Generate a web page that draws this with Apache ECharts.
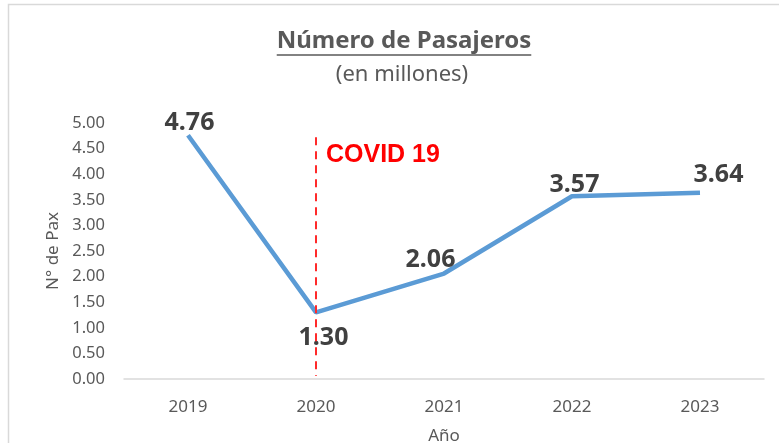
<!DOCTYPE html>
<html>
<head>
<meta charset="utf-8">
<script src="https://cdn.jsdelivr.net/npm/echarts@6/dist/echarts.min.js"></script>
<style>
html, body { margin: 0; padding: 0; background: #fff; }
#chart { width: 779px; height: 443px; }
</style>
</head>
<body>
<div id="chart"></div>
<script>
// datos
var years = ['2019', '2020', '2021', '2022', '2023'];
var pasajeros = [4.76, 1.30, 2.06, 3.57, 3.64];
// posición del centro de cada etiqueta respecto a su punto
var labelOffset = [[2, -12], [8, 26], [-13, -13], [3, -11], [19, -17]];
var covidYear = '2020';

var FONT = '"Noto Sans", "Open Sans", sans-serif';
var TITLE = 'Número de Pasajeros';
var SUBTITLE = '(en millones)';
var TITLE_SIZE = 24;
var SUB_SIZE = 22;
var CX = 404;

// anchos de texto para centrar y subrayar
var ctx = document.createElement('canvas').getContext('2d');
ctx.font = 'bold ' + TITLE_SIZE + 'px "Noto Sans"';
var titleW = ctx.measureText(TITLE).width;
ctx.font = SUB_SIZE + 'px "Noto Sans"';
var subW = ctx.measureText(SUBTITLE).width;

var chart = echarts.init(document.getElementById('chart'));

var seriesData = pasajeros.map(function(v, i){
    return {
        value: v,
        label: { position: labelOffset[i] }
    };
});

var option = {
    backgroundColor: '#fff',
    animation: false,
    title: [{
        text: TITLE,
        left: CX - titleW / 2,
        top: 29,
        padding: 0,
        textStyle: { fontFamily: FONT, fontSize: TITLE_SIZE, fontWeight: 'bold', color: '#595959' }
    }, {
        text: SUBTITLE,
        left: CX - 2 - subW / 2,
        top: 64,
        padding: 0,
        textStyle: { fontFamily: FONT, fontSize: SUB_SIZE, fontWeight: 'normal', color: '#595959' }
    }],
    graphic: [{
        type: 'rect',
        shape: { x: 8.5, y: 4.5, width: 790, height: 460 },
        style: { fill: 'none', stroke: '#d9d9d9', lineWidth: 1.5 },
        silent: true
    }, {
        // subrayado del título
        type: 'line',
        shape: { x1: CX - titleW / 2, y1: 55, x2: CX + titleW / 2, y2: 55 },
        style: { stroke: '#595959', lineWidth: 1.4 },
        silent: true
    }, {
        type: 'text',
        left: 326,
        top: 143,
        style: { text: 'COVID 19', fill: '#ff0000', font: 'bold 25px "Liberation Sans", Arial, sans-serif' }
    }],
    grid: { left: 124, right: 15, top: 123, bottom: 64, outerBoundsMode: 'none', containLabel: false },
    xAxis: {
        type: 'category',
        data: years,
        boundaryGap: true,
        name: 'Año',
        nameLocation: 'middle',
        nameGap: 49,
        nameTextStyle: { fontFamily: FONT, fontSize: 17, color: '#595959' },
        axisLine: { lineStyle: { color: '#d9d9d9', width: 1.5 } },
        axisTick: { show: false },
        axisLabel: { fontFamily: FONT, fontSize: 17, color: '#595959', margin: 20 }
    },
    yAxis: {
        type: 'value',
        min: 0,
        max: 5,
        interval: 0.5,
        name: 'N° de Pax',
        nameLocation: 'middle',
        nameGap: 62,
        nameTextStyle: { fontFamily: FONT, fontSize: 17, color: '#595959' },
        axisLine: { show: false },
        axisTick: { show: false },
        splitLine: { show: false },
        axisLabel: {
            fontFamily: FONT, fontSize: 16.5, color: '#595959', margin: 19,
            formatter: function(v){ return v.toFixed(2); }
        }
    },
    series: [{
        type: 'line',
        data: seriesData,
        symbol: 'circle',
        symbolSize: 1,
        showSymbol: true,
        lineStyle: { color: '#5b9bd5', width: 4.5 },
        itemStyle: { color: 'rgba(0,0,0,0)', borderWidth: 0 },
        labelLayout: { hideOverlap: false },
        label: {
            show: true,
            align: 'center',
            verticalAlign: 'middle',
            fontFamily: FONT,
            fontSize: 25,
            fontWeight: 'bold',
            color: '#404040',
            formatter: function(p){ return p.value.toFixed(2); }
        },
        markLine: {
            silent: true,
            symbol: 'none',
            label: { show: false },
            lineStyle: { color: '#ff2a2a', type: [8, 6], width: 2 },
            data: [[
                { coord: [covidYear, 4.72] },
                { coord: [covidYear, 0.06] }
            ]]
        }
    }]
};

chart.setOption(option);
</script>
</body>
</html>
